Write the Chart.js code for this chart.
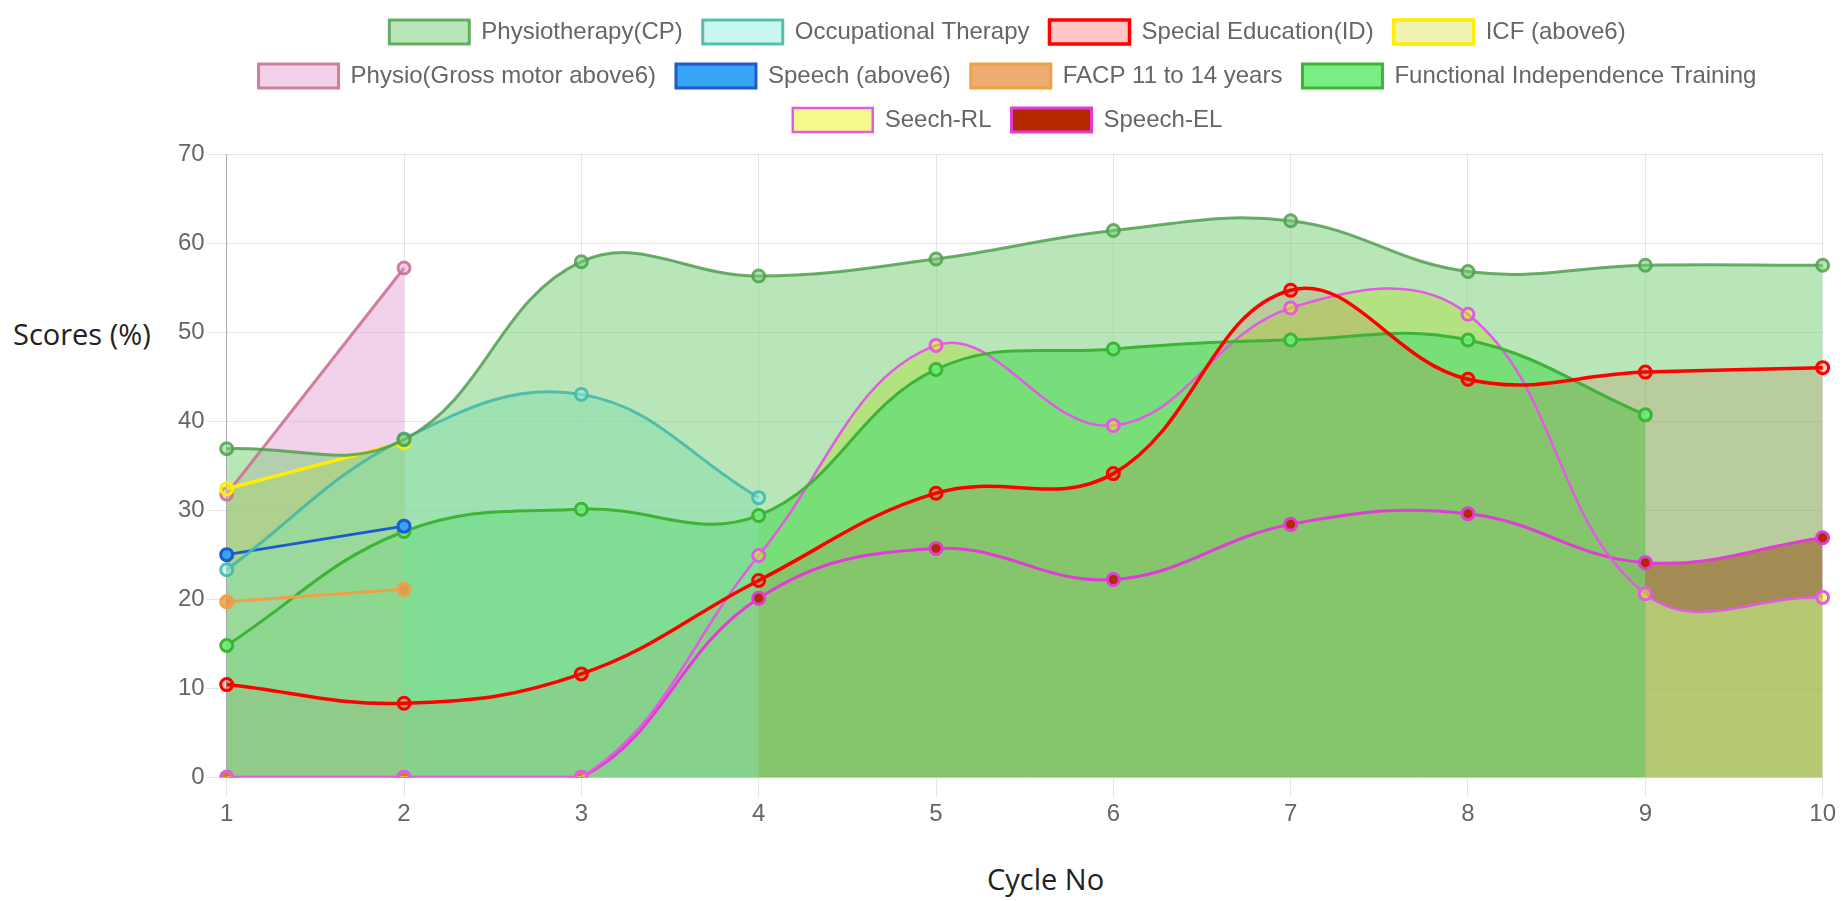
<!DOCTYPE html>
<html>
<head>
<meta charset="utf-8">
<title>Scores by cycle</title>
<script src="https://cdn.jsdelivr.net/npm/chart.js@4.4.0/dist/chart.umd.min.js"></script>
<style>
    body {
        margin: 0;
        background: #fff;
        width: 1846px;
        height: 901px;
        overflow: hidden;
        position: relative;
    }
    #chartBox {
        position: absolute;
        left: 176px;
        top: 0;
        width: 1663px;
        height: 832px;
    }
    .axis-title {
        position: absolute;
        font-family: "Open Sans", "Noto Sans", sans-serif;
        font-size: 29px;
        color: #222;
        white-space: nowrap;
    }
    #yTitle {
        left: 13px;
        top: 314px;
    }
    #xTitle {
        left: 987px;
        top: 859px;
    }
</style>
</head>
<body>
<div class="axis-title" id="yTitle">Scores (%)</div>
<div id="chartBox"><canvas id="scoresChart"></canvas></div>
<div class="axis-title" id="xTitle">Cycle No</div>

<script>
const cycles = ["1", "2", "3", "4", "5", "6", "7", "8", "9", "10"];
const yTicks = [0, 10, 20, 30, 40, 50, 60, 70];

const physioCP = [36.9, 37.9, 57.9, 56.3, 58.2, 61.4, 62.5, 56.8, 57.5, 57.5];
const occupational = [23.3, 38.0, 43.0, 31.4, null, null, null, null, null, null];
const specialEd = [10.4, 8.3, 11.6, 22.1, 31.9, 34.1, 54.7, 44.7, 45.5, 46.0];
const icfAbove6 = [32.4, 37.6, null, null, null, null, null, null, null, null];
const physioGross = [31.8, 57.2, null, null, null, null, null, null, null, null];
const speechAbove6 = [25.0, 28.2, null, null, null, null, null, null, null, null];
const facp = [19.7, 21.1, null, null, null, null, null, null, null, null];
const functionalTraining = [14.8, 27.6, 30.1, 29.4, 45.8, 48.1, 49.1, 49.1, 40.7, null];
const seechRL = [0, 0, 0, 24.9, 48.5, 39.5, 52.7, 52.0, 20.6, 20.2];
const speechEL = [0, 0, 0, 20.1, 25.7, 22.2, 28.4, 29.6, 24.1, 26.9];

const tickFont = { family: "'Liberation Sans', Arial, sans-serif", size: 24 };

// leaves a bit more room between the legend and the plot
const legendGap = {
    id: "legendGap",
    beforeInit(chart) {
        const fitLegend = chart.legend.fit;
        chart.legend.fit = function fit() {
            fitLegend.bind(chart.legend)();
            this.height += 12;
        };
    },
};

function line(label, data, bg, border, extra) {
    return Object.assign({
        label: label,
        data: data,
        backgroundColor: bg,
        borderColor: border,
        borderWidth: 3,
        pointRadius: 6,
        pointBorderWidth: 3,
        tension: 0.4,
        fill: "origin",
    }, extra || {});
}

document.addEventListener("DOMContentLoaded", function () {
    const ctx = document.getElementById("scoresChart").getContext("2d");
    const scoresChart = new Chart(ctx, {
        type: "line",
        plugins: [legendGap],
        data: {
            labels: cycles,
            datasets: [
                line("Physiotherapy(CP)", physioCP, "rgba(118, 207, 118, 0.52)", "rgba(80, 160, 80, 0.85)"),
                line("Occupational Therapy", occupational, "rgba(150, 240, 225, 0.5)", "rgba(70, 185, 168, 0.9)"),
                line("Special Education(ID)", specialEd, "rgba(255, 0, 0, 0.22)", "rgb(255, 0, 0)", { borderWidth: 3.5 }),
                line("ICF (above6)", icfAbove6, "rgba(220, 220, 60, 0.38)", "rgb(255, 238, 0)", { borderWidth: 3.5 }),
                line("Physio(Gross motor above6)", physioGross, "rgba(225, 145, 205, 0.42)", "rgba(205, 115, 145, 0.9)"),
                line("Speech (above6)", speechAbove6, "rgb(55, 165, 245)", "rgb(30, 90, 205)", { fill: false }),
                line("FACP 11 to 14 years", facp, "rgba(235, 145, 65, 0.75)", "rgb(240, 160, 70)", { fill: false }),
                line("Functional Independence Training", functionalTraining, "rgba(108, 236, 120, 0.9)", "rgb(62, 180, 55)"),
                line("Seech-RL", seechRL, "rgba(235, 245, 0, 0.45)", "rgb(228, 90, 228)", { borderWidth: 2.5 }),
                line("Speech-EL", speechEL, "rgb(180, 40, 0)", "rgb(225, 60, 215)", {
                    fill: { target: "-1", above: "rgba(180, 40, 0, 0.78)", below: "rgba(0, 0, 0, 0)" },
                }),
            ],
        },
        options: {
            responsive: true,
            maintainAspectRatio: false,
            animation: false,
            plugins: {
                filler: { drawTime: "beforeDatasetsDraw" },
                tooltip: { enabled: false },
                legend: {
                    position: "top",
                    labels: {
                        boxWidth: 80,
                        boxHeight: 24,
                        padding: 20,
                        color: "#666",
                        font: tickFont,
                    },
                },
            },
            scales: {
                x: {
                    grid: { color: "rgba(0, 0, 0, 0.1)", tickLength: 20 },
                    border: { color: "rgba(0, 0, 0, 0.12)" },
                    ticks: { color: "#666", font: tickFont, padding: 3, maxRotation: 0 },
                },
                y: {
                    min: yTicks[0],
                    max: yTicks[yTicks.length - 1],
                    afterBuildTicks: (axis) => {
                        axis.ticks = yTicks.map((v) => ({ value: v }));
                    },
                    grid: { color: "rgba(0, 0, 0, 0.1)", tickLength: 20 },
                    border: { color: "rgba(0, 0, 0, 0.25)" },
                    ticks: { color: "#666", font: tickFont, padding: 2 },
                },
            },
        },
    });
});
</script>
</body>
</html>
